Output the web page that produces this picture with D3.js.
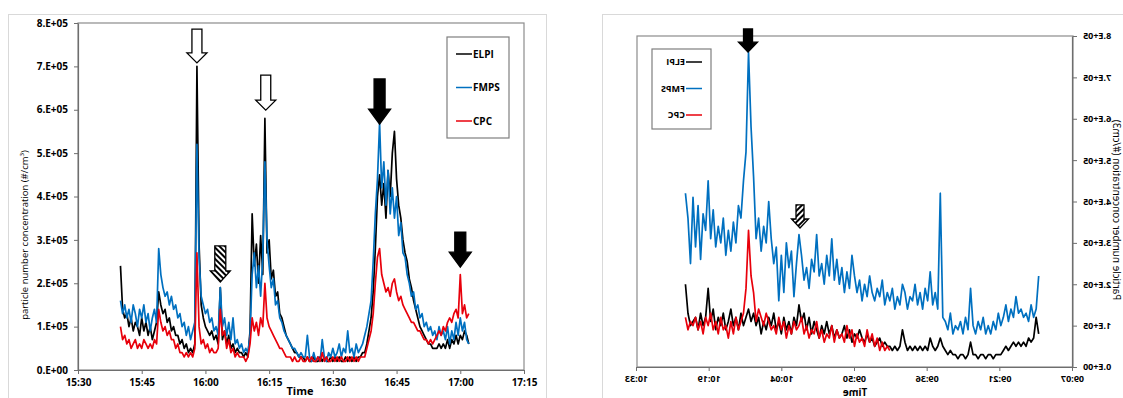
<!DOCTYPE html>
<meta charset="utf-8">
<style>
body { margin: 0; background: #fff; }
svg { font-family: "Open Sans", "Noto Sans", sans-serif; display: block; }
</style>
<svg width="1123" height="398"></svg>
<script src="https://d3js.org/d3.v7.min.js"></script>
<script>

// concentrations in units of 1e4 #/cm3, one reading every half minute
var unit = 1e4, step = 0.5;

// left run: 15:40 -> 17:02 (minutes since midnight)
var startL = 940;
var elpiL = [24,14,12,13,10,12,9,11,10,8, 12,9,11,8,10,7,9,11,18,15,
  13,14,11,12,9,10,8,8,6,7, 5,6,4,5,4,6,70,29,15,12,
  10,9,8,9,7,8,6,19,7,9, 6,8,5,6,4,5,4,4,3,4,
  3,9,36,24,29,20,31,22,58,27, 30,21,23,17,18,13,12,10,8,7,
  6,5,4,4,3,3,3,2,3,2, 2,3,2,2,3,2,3,2,2,3,
  2,3,2,3,2,2,3,2,3,2, 3,2,3,3,4,4,6,9,12,18,
  28,40,45,38,43,35,46,40,50,55, 44,38,35,30,27,25,21,19,16,14,
  12,10,9,8,7,6,6,5,5,5, 6,5,6,5,7,5,7,6,8,6,
  8,7,9,8,6];
var fmpsL = [16,13,15,12,14,11,15,13,10,14, 12,15,11,13,9,12,14,11,28,22,
  19,17,18,15,17,14,15,12,13,10, 11,8,10,7,9,11,52,26,17,15,
  13,14,11,12,9,10,8,19,10,12, 8,11,7,12,6,7,5,6,4,5,
  4,8,22,27,19,24,17,26,48,30, 24,19,21,15,16,12,11,9,8,7,
  6,5,5,4,3,4,3,3,8,3, 2,4,2,3,2,7,3,2,4,3,
  5,3,4,6,3,5,4,9,4,5, 3,6,4,5,6,8,10,13,16,25,
  36,44,57,42,48,38,46,36,42,35, 40,31,34,27,26,22,20,17,18,14,
  15,12,13,10,11,9,10,8,9,7, 10,8,9,7,10,6,9,7,11,8,
  12,9,11,7,6];
var cpcL = [10,7,8,6,7,5,6,7,5,6, 5,7,6,5,6,5,7,6,14,11,
  9,10,8,9,7,7,5,6,4,4, 3,4,3,4,3,5,27,10,6,7,
  5,6,4,5,4,4,5,14,8,9, 5,7,4,5,3,4,3,3,3,2,
  3,6,12,9,11,8,12,10,20,12, 10,9,8,7,6,5,5,4,3,3,
  3,2,3,2,2,3,2,2,3,2, 3,2,2,3,2,4,2,3,2,2,
  3,2,3,2,3,2,2,3,2,3, 2,3,2,3,3,3,5,7,9,13,
  20,26,28,22,20,18,19,17,20,21, 18,16,17,15,14,13,12,11,11,10,
  9,9,8,7,7,6,7,6,7,8, 9,8,10,9,11,12,11,13,14,12,
  22,13,15,12,13];

// right run: 09:14 -> 10:24, CPC from 09:43.5
var startR = 554, startRcpc = 583.5;
var elpiR = [8,12,7,6,7,5,6,5,6,5, 6,5,4,5,4,3,3,3,2,3,
  3,2,3,3,2,3,3,6,3,2, 3,3,2,3,3,4,3,4,5,7,
  5,4,5,7,4,5,4,5,4,5, 4,5,4,6,9,5,4,5,4,5,
  5,6,5,7,6,5,7,6,8,6, 7,9,7,8,6,9,7,10,8,7,
  9,7,10,8,11,8,10,7,9,11, 8,12,9,13,11,15,10,12,8,11,
  9,12,8,11,9,13,10,12,9,11, 8,12,10,13,11,14,12,10,13,9,
  12,10,14,11,9,13,10,12,9,14, 11,19,12,10,13,9,12,11,10,13,
  20];
var fmpsR = [22,14,12,15,11,13,12,14,13,17, 12,14,11,15,12,10,13,9,11,8,
  10,8,12,9,11,8,10,19,9,12, 8,11,9,10,8,13,9,11,12,42,
  14,18,15,23,16,19,14,18,15,20, 16,17,14,18,20,15,17,14,19,16,
  18,15,21,17,19,16,18,22,17,20, 16,21,18,22,27,19,23,18,24,20,
  26,21,31,22,27,20,25,22,32,23, 26,19,24,21,27,32,25,17,28,24,
  30,18,27,16,29,25,31,40,30,34, 28,36,31,46,58,76,52,45,36,39,
  30,35,28,33,27,36,30,34,29,38, 31,45,33,37,26,39,29,41,25,36,
  42];
var cpcR = [4,5,4,6,4,7,5,8,6,9, 5,7,6,8,5,9,7,10,6,8,
  7,9,6,10,7,8,6,9,7,11, 8,9,7,10,8,12,10,9,11,8,
  10,7,11,9,12,8,10,9,11,13, 10,12,14,11,18,22,33,19,13,11,
  9,12,8,11,7,10,9,12,8,11, 9,13,10,12,8,11,9,12,10,11,
  9,12];

var names = ["ELPI", "FMPS", "CPC"];
var yTicks = [0, 1e5, 2e5, 3e5, 4e5, 5e5, 6e5, 7e5, 8e5];
var yLabels = ["0.E+00","1.E+05","2.E+05","3.E+05","4.E+05","5.E+05","6.E+05","7.E+05","8.E+05"];
var xTicksL = [930, 945, 960, 975, 990, 1005, 1020, 1035];
var xLabelsL = ["15:30","15:45","16:00","16:15","16:30","16:45","17:00","17:15"];
var xTicksR = [547.2, 561.6, 576, 590.4, 604.8, 619.2, 633.6];
var xLabelsR = ["09:07","09:21","09:36","09:50","10:04","10:19","10:33"];

// arrow marks: [time (min), from value, to value, kind]
var arrowsL = [[958, 7.86e5, 7.08e5, "open"], [974.2, 6.8e5, 5.99e5, "open"],
  [1001, 6.71e5, 5.67e5, "solid"], [1020, 3.18e5, 2.37e5, "solid"],
  [963.5, 2.86e5, 2.03e5, "hatch"]];
var arrowsR = [[611.6, 8.17e5, 7.61e5, "solid"], [601.3, 3.92e5, 3.36e5, "hatch"]];

var colors = {ELPI: "#000000", FMPS: "#0070c0", CPC: "#e8000b"};

var svg = d3.select("svg");

svg.append("defs").append("pattern")
    .attr("id", "hatch")
    .attr("width", 4).attr("height", 4)
    .attr("patternUnits", "userSpaceOnUse")
    .attr("patternTransform", "rotate(-45)")
  .call(function(p) {
    p.append("rect").attr("width", 4).attr("height", 4).attr("fill", "#fff");
    p.append("rect").attr("width", 2).attr("height", 4).attr("fill", "#000");
  });

function toPts(vals, start) {
  return vals.map(function(v, i) { return {t: start + i * step, v: v * unit}; });
}

// panel outer frames
svg.append("rect").attr("x", 8.5).attr("y", 14.5).attr("width", 538).attr("height", 420)
    .attr("fill", "none").attr("stroke", "#d9d9d9");
svg.append("rect").attr("x", 602.5).attr("y", 14.5).attr("width", 540).attr("height", 420)
    .attr("fill", "none").attr("stroke", "#d9d9d9");

function panel(g, p) {
  var x = d3.scaleLinear().domain(p.xDomain).range([p.left, p.right]);
  var y = d3.scaleLinear().domain([0, 8e5]).range([p.bottom, p.top]);

  g.append("rect")
      .attr("x", p.left).attr("y", p.top)
      .attr("width", p.right - p.left).attr("height", p.bottom - p.top)
      .attr("fill", "none").attr("stroke", "#8c8c8c").attr("stroke-width", 1.2);

  var line = d3.line().x(function(d) { return x(d.t); }).y(function(d) { return y(d.v); });
  p.series.forEach(function(s) {
    g.append("path").datum(s.data)
        .attr("d", line)
        .attr("fill", "none")
        .attr("stroke", colors[s.name])
        .attr("stroke-width", p.lw)
        .attr("stroke-linejoin", "round");
  });

  var ya = g.append("g")
      .attr("transform", "translate(" + p.left + ",0)")
      .call(d3.axisLeft(y).tickValues(yTicks)
        .tickFormat(function(d, i) { return yLabels[i]; })
        .tickSize(4).tickSizeOuter(0).tickPadding(6));
  var xa = g.append("g")
      .attr("transform", "translate(0," + p.bottom + ")")
      .call(d3.axisBottom(x).tickValues(p.xTicks)
        .tickFormat(function(d, i) { return p.xLabels[i]; })
        .tickSize(4).tickSizeOuter(0).tickPadding(p.xPad));
  [ya, xa].forEach(function(a) {
    a.attr("font-family", null).attr("font-size", null);
    a.selectAll(".domain").attr("stroke", "#6e6e6e").attr("stroke-width", 1.2);
    a.selectAll(".tick line").attr("stroke", "#6e6e6e");
    a.selectAll("text").attr("font-size", p.fs).attr("font-weight", "bold").attr("fill", "#000");
  });

  // legend
  var lg = g.append("g").attr("transform", "translate(" + p.legend[0] + "," + p.legend[1] + ")");
  lg.append("rect").attr("width", p.legend[2]).attr("height", p.legend[3])
      .attr("fill", "#fff").attr("stroke", "#7f7f7f").attr("stroke-width", 1.2);
  names.forEach(function(n, i) {
    var yy = p.legend[4] + i * p.legend[5];
    lg.append("line").attr("x1", 9).attr("x2", 25).attr("y1", yy).attr("y2", yy)
        .attr("stroke", colors[n]).attr("stroke-width", 1.5);
    lg.append("text").attr("x", 26).attr("y", yy).attr("dy", "0.35em")
        .attr("font-size", p.fs).attr("font-weight", "bold").text(n);
  });

  // arrows
  p.arrows.forEach(function(a) {
    var cx = x(a[0]), y0 = y(a[1]), y1 = y(a[2]), k = p.arrowSize[a[3]];
    var sw = k[0] / 2, hw = k[1] / 2, hy = y1 - k[2];
    var d = "M" + (cx - sw) + "," + y0 + "L" + (cx + sw) + "," + y0 + "L" + (cx + sw) + "," + hy +
      "L" + (cx + hw) + "," + hy + "L" + cx + "," + y1 + "L" + (cx - hw) + "," + hy +
      "L" + (cx - sw) + "," + hy + "Z";
    g.append("path").attr("d", d)
        .attr("fill", a[3] === "solid" ? "#000" : a[3] === "hatch" ? "url(#hatch)" : "#fff")
        .attr("stroke", "#000").attr("stroke-width", 1.3).attr("stroke-linejoin", "miter");
  });

  // titles
  var yt = g.append("text")
      .attr("transform", "translate(" + p.yTitle[0] + "," + p.yTitle[1] + ") rotate(-90)")
      .attr("text-anchor", "middle").attr("dy", "0.35em")
      .attr("font-size", p.yTitle[2]);
  yt.append("tspan").text(p.yTitle[3]);
  if (p.yTitle[4]) {
    yt.append("tspan").attr("baseline-shift", "super").attr("font-size", "0.65em").text(p.yTitle[4]);
    yt.append("tspan").text(")");
  }
  g.append("text").attr("x", p.xTitle[0]).attr("y", p.xTitle[1])
      .attr("text-anchor", "middle").attr("font-size", p.fs + 1).attr("font-weight", "bold")
      .text("Time");
}

panel(svg.append("g"), {
  xDomain: [930, 1035], left: 78, right: 524, top: 23, bottom: 370,
  xTicks: xTicksL, xLabels: xLabelsL, xPad: 5, fs: 10, lw: 1.7,
  series: [{name: "ELPI", data: toPts(elpiL, startL)},
           {name: "FMPS", data: toPts(fmpsL, startL)},
           {name: "CPC", data: toPts(cpcL, startL)}],
  legend: [447, 37, 62, 101, 17, 33.5],
  arrows: arrowsL,
  arrowSize: {open: [10, 20, 10], solid: [11, 22, 15], hatch: [11, 20, 11]},
  yTitle: [25, 235, 9.5, "particle number concentration (#/cm", "3"],
  xTitle: [300, 395]
});

// the second panel is shown mirrored left-right
panel(svg.append("g").attr("transform", "translate(1710,0) scale(-1,1)"), {
  xDomain: [547.2, 633.6], left: 637, right: 1073, top: 36, bottom: 367,
  xTicks: xTicksR, xLabels: xLabelsR, xPad: 5, fs: 9, lw: 1.7,
  series: [{name: "ELPI", data: toPts(elpiR, startR)},
           {name: "FMPS", data: toPts(fmpsR, startR)},
           {name: "CPC", data: toPts(cpcR, startRcpc)}],
  legend: [999, 49, 59, 80, 13, 26.5],
  arrows: arrowsR,
  arrowSize: {open: [9, 19, 10], solid: [9, 19, 10], hatch: [8, 17, 9]},
  yTitle: [594, 210, 10, "Particle number concentration (#/cm3)"],
  xTitle: [855, 396]
});

</script>
